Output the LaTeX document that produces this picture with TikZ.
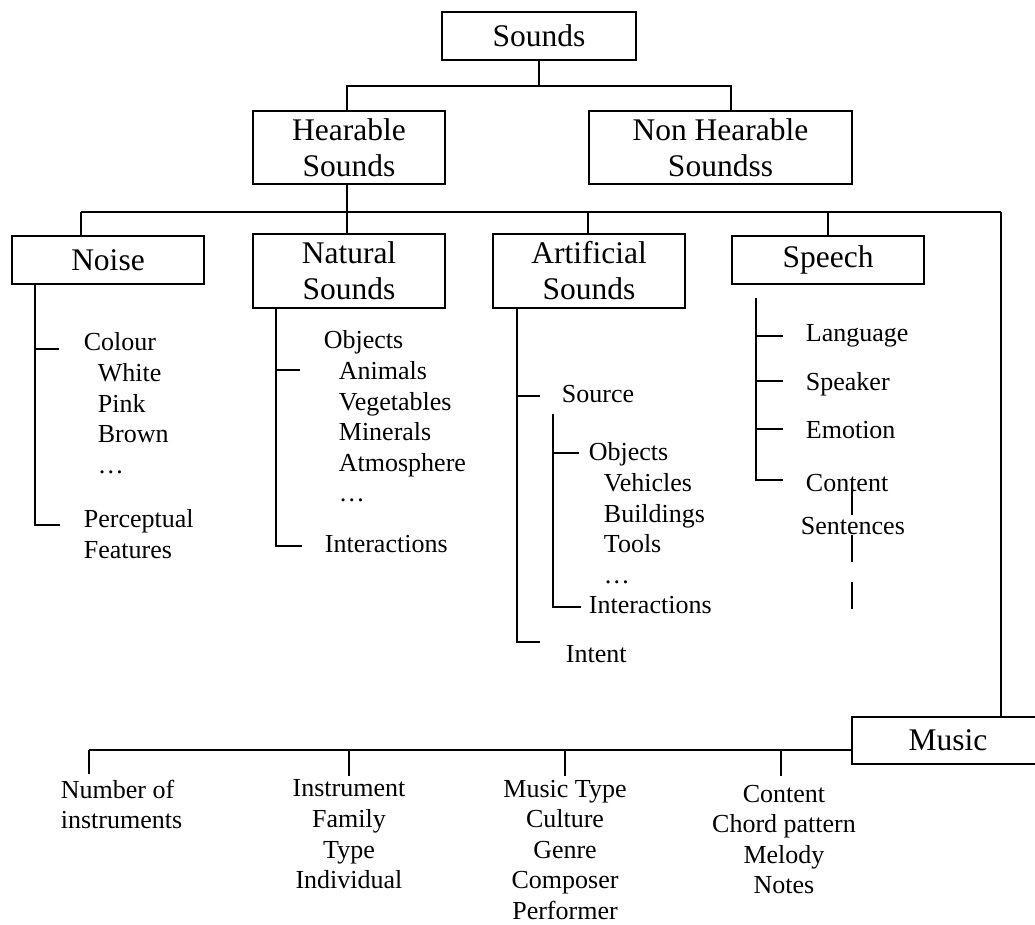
\documentclass[tikz,border=0pt]{standalone}
\usepackage{fontspec}
\setmainfont{Liberation Serif}
\begin{document}
\begin{tikzpicture}[x=1pt,y=-1pt,line width=1.8pt,line join=miter,
  catbox/.style={draw,rectangle,inner sep=0pt,align=center,
    font=\fontsize{31.5}{36}\selectfont},
  item/.style={inner sep=0pt,anchor=north west,align=left,
    font=\fontsize{26}{30.6}\selectfont},
  leaf/.style={inner sep=0pt,anchor=north,align=center,
    font=\fontsize{26}{30.6}\selectfont},
  dashline/.style={dash pattern=on 27pt off 20pt}]
\useasboundingbox (0,0) rectangle (1035,924);

% category boxes
\node[catbox,minimum width=194pt,minimum height=48pt] (sounds) at (539,36) {Sounds};
\node[catbox,minimum width=192pt,minimum height=73pt] (hear) at (349,147.5) {Hearable\\Sounds};
\node[catbox,minimum width=263pt,minimum height=73pt] (nonhear) at (720.5,147.5) {Non Hearable\\Soundss};
\node[catbox,minimum width=192pt,minimum height=48pt] (noise) at (108,260) {Noise};
\node[catbox,minimum width=192pt,minimum height=74pt] (natural) at (349,271) {Natural\\Sounds};
\node[catbox,minimum width=192pt,minimum height=74pt] (artificial) at (589,271) {Artificial\\Sounds};
\node[catbox,minimum width=192pt,minimum height=48pt] (speech) at (828,260) {Speech};
\node[catbox,minimum width=192pt,minimum height=47pt] (music) at (948,740.5) {Music};

% top level tree
\coordinate (topL) at (347,86);
\coordinate (topR) at (731,86);
\draw (sounds.south) -- (sounds.south |- topL);
\draw (hear.north -| topL) -- (topL) -- (topR) -- (nonhear.north -| topR);

% hearable sounds bus
\coordinate (busL) at (81,212);
\coordinate (busH) at (347,212);
\coordinate (busA) at (588,212);
\coordinate (busS) at (828,212);
\coordinate (busR) at (1001,212);
\draw (busL) -- (busR);
\draw (noise.north -| busL) -- (busL);
\draw (hear.south -| busH) -- (natural.north -| busH);
\draw (artificial.north -| busA) -- (busA);
\draw (speech.north -| busS) -- (busS);
\draw (busR) -- (music.north -| busR);

% noise branch
\coordinate (nzTick) at (35,349);
\coordinate (nzBot) at (35,525);
\draw (noise.south -| nzBot) -- (nzBot) -- ++(25,0);
\draw (nzTick) -- ++(24,0);
\node[item] (nzColour) at (83,332) {Colour\\\hspace*{14pt}White\\\hspace*{14pt}Pink\\\hspace*{14pt}Brown\\\hspace*{14pt}…};
\node[item] (nzPercept) at (83,509) {Perceptual\\Features};

% natural sounds branch
\coordinate (natTick) at (276,370);
\coordinate (natBot) at (276,546);
\draw (natural.south -| natBot) -- (natBot) -- ++(26,0);
\draw (natTick) -- ++(24,0);
\node[item] (natObjects) at (323,330) {Objects\\\hspace*{15pt}Animals\\\hspace*{15pt}Vegetables\\\hspace*{15pt}Minerals\\\hspace*{15pt}Atmosphere\\\hspace*{15pt}…};
\node[item] (natInter) at (324,534) {Interactions};

% artificial sounds branch
\coordinate (artTick) at (517,396);
\coordinate (artBot) at (517,642);
\draw (artificial.south -| artBot) -- (artBot) -- ++(23,0);
\draw (artTick) -- ++(23,0);
\node[item] (artSource) at (561,384) {Source};
\node[item] (artIntent) at (565,645) {Intent};
\coordinate (srcTop) at (553,414);
\coordinate (srcTick) at (553,453);
\coordinate (srcBot) at (553,607);
\draw (srcTop) -- (srcBot) -- ++(28,0);
\draw (srcTick) -- ++(26,0);
\node[item] (srcObjects) at (588,442) {Objects\\\hspace*{15pt}Vehicles\\\hspace*{15pt}Buildings\\\hspace*{15pt}Tools\\\hspace*{15pt}…\\Interactions};

% speech branch
\coordinate (spTop) at (756,298);
\coordinate (spT1) at (756,336);
\coordinate (spT2) at (756,381);
\coordinate (spT3) at (756,429);
\coordinate (spBot) at (756,480);
\draw (spTop) -- (spBot) -- ++(27,0);
\draw (spT1) -- ++(27,0);
\draw (spT2) -- ++(27,0);
\draw (spT3) -- ++(27,0);
\node[item] (spLang) at (805,324) {Language};
\node[item] (spSpeaker) at (805,372) {Speaker};
\node[item] (spEmotion) at (805,420) {Emotion};
\node[item] (spContent) at (805,473) {Content};
\node[item] (spSent) at (800,516) {Sentences};
\coordinate (sentTop) at (852,488);
\coordinate (sentEnd) at (852,609);
\draw[dashline] (sentTop) -- (sentEnd);

% music branch
\coordinate (mb1) at (89,750);
\coordinate (mb2) at (349,751);
\coordinate (mb3) at (565,751);
\coordinate (mb4) at (781,751);
\draw (mb1) -- (music.west |- mb1);
\node[item] (muNumber) at (60,779) {Number of\\instruments};
\node[leaf] (muInstr) at (349,779) {Instrument\\Family\\Type\\Individual};
\node[leaf] (muType) at (565,779) {Music Type\\Culture\\Genre\\Composer\\Performer};
\node[leaf] (muContent) at (784,784) {Content\\Chord pattern\\Melody\\Notes};
\draw (mb1) -- ++(0,24);
\draw (mb2) -- ++(0,25);
\draw (mb3) -- ++(0,25);
\draw (mb4) -- ++(0,25);
\end{tikzpicture}
\end{document}
